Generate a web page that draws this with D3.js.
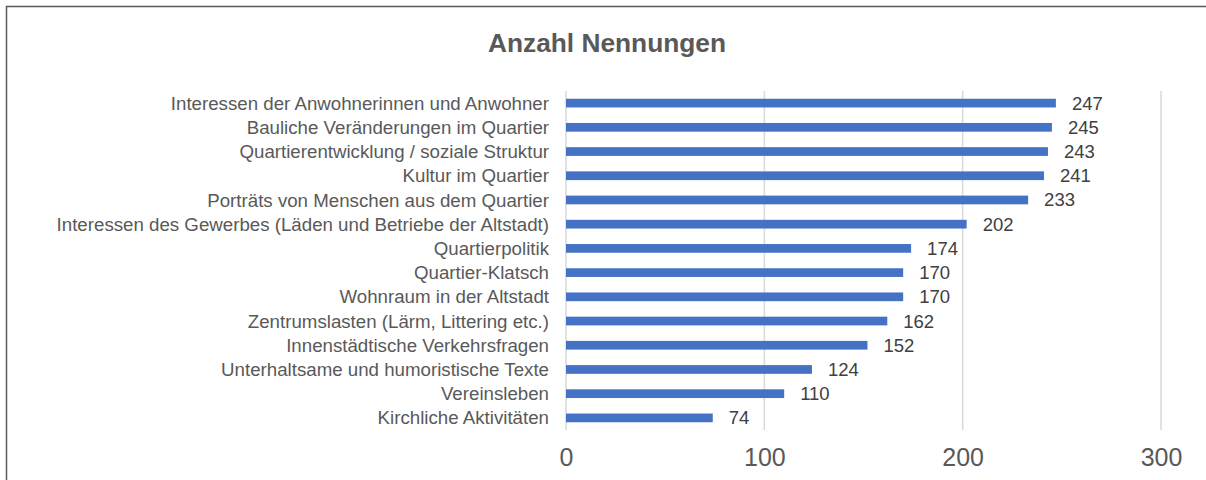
<!DOCTYPE html>
<html>
<head>
<meta charset="utf-8">
<script src="https://cdn.jsdelivr.net/npm/d3@7"></script>
<style>
    body { margin: 0; background: #fff; }
    svg { display: block; font-family: "Liberation Sans", Arial, sans-serif; }
    .cat-label { font-size: 18.7px; fill: #595959; }
    .val-label { font-size: 18.5px; fill: #404040; }
    .axis text { font-size: 25px; fill: #595959; }
</style>
</head>
<body>
<div id="chart-container"></div>
<script>
// data
const categories = [
    "Interessen der Anwohnerinnen und Anwohner",
    "Bauliche Veränderungen im Quartier",
    "Quartierentwicklung / soziale Struktur",
    "Kultur im Quartier",
    "Porträts von Menschen aus dem Quartier",
    "Interessen des Gewerbes (Läden und Betriebe der Altstadt)",
    "Quartierpolitik",
    "Quartier-Klatsch",
    "Wohnraum in der Altstadt",
    "Zentrumslasten (Lärm, Littering etc.)",
    "Innenstädtische Verkehrsfragen",
    "Unterhaltsame und humoristische Texte",
    "Vereinsleben",
    "Kirchliche Aktivitäten"
];
const counts = [247, 245, 243, 241, 233, 202, 174, 170, 170, 162, 152, 124, 110, 74];
const xTicks = [0, 100, 200, 300];
const chartTitle = "Anzahl Nennungen";

// margin convention
const svgWidth = 1206,
    svgHeight = 480,
    margin = { top: 91, right: 45, bottom: 50, left: 566 },
    width = svgWidth - margin.left - margin.right,
    height = svgHeight - margin.top - margin.bottom;

let svg = d3.select("#chart-container").append("svg")
    .attr("width", svgWidth)
    .attr("height", svgHeight);

// chart border
svg.append("rect")
    .attr("x", 6.5)
    .attr("y", 6.5)
    .attr("width", svgWidth + 10)
    .attr("height", svgHeight + 10)
    .attr("fill", "none")
    .attr("stroke", "#595959")
    .attr("stroke-width", 1.5);

// title
svg.append("text")
    .attr("x", 607)
    .attr("y", 52)
    .attr("text-anchor", "middle")
    .attr("font-size", 26.3)
    .attr("font-weight", "bold")
    .attr("fill", "#595959")
    .text(chartTitle);

let chartGroup = svg.append("g")
    .attr("transform", `translate(${margin.left}, ${margin.top})`);

let rows = categories.map((c, i) => ({ cat: c, count: counts[i] }));

// scales
let xScale = d3.scaleLinear()
    .domain([0, 300])
    .range([0, width]);
let yScale = d3.scaleBand()
    .domain(categories)
    .range([0, height])
    .paddingInner(0.64)
    .paddingOuter(0.32);

// gridlines
chartGroup.selectAll("line.grid")
    .data(xTicks)
    .join("line")
    .attr("class", "grid")
    .attr("x1", (d) => xScale(d))
    .attr("x2", (d) => xScale(d))
    .attr("y1", 0)
    .attr("y2", height)
    .attr("stroke", "#d9d9d9")
    .attr("stroke-width", 1.5);

// x axis (labels only)
let xAxis = chartGroup.append("g")
    .attr("class", "axis")
    .attr("transform", `translate(0, ${height})`)
    .call(d3.axisBottom(xScale).tickValues(xTicks).tickSize(0).tickPadding(18));
xAxis.select(".domain").remove();
xAxis.selectAll("text").attr("font-family", null).attr("font-size", null);

// bars
chartGroup.selectAll("rect.bar")
    .data(rows)
    .join("rect")
    .attr("class", "bar")
    .attr("x", xScale(0))
    .attr("y", (d) => yScale(d.cat))
    .attr("width", (d) => xScale(d.count) - xScale(0))
    .attr("height", yScale.bandwidth())
    .attr("fill", "#4472c4");

// value labels
chartGroup.selectAll("text.val-label")
    .data(rows)
    .join("text")
    .attr("class", "val-label")
    .attr("x", (d) => xScale(d.count) + 16)
    .attr("y", (d) => yScale(d.cat) + yScale.bandwidth() / 2)
    .attr("dy", "0.35em")
    .text((d) => d.count);

// category labels
chartGroup.selectAll("text.cat-label")
    .data(rows)
    .join("text")
    .attr("class", "cat-label")
    .attr("x", -17)
    .attr("y", (d) => yScale(d.cat) + yScale.bandwidth() / 2)
    .attr("dy", "0.35em")
    .attr("text-anchor", "end")
    .text((d) => d.cat);
</script>
</body>
</html>
